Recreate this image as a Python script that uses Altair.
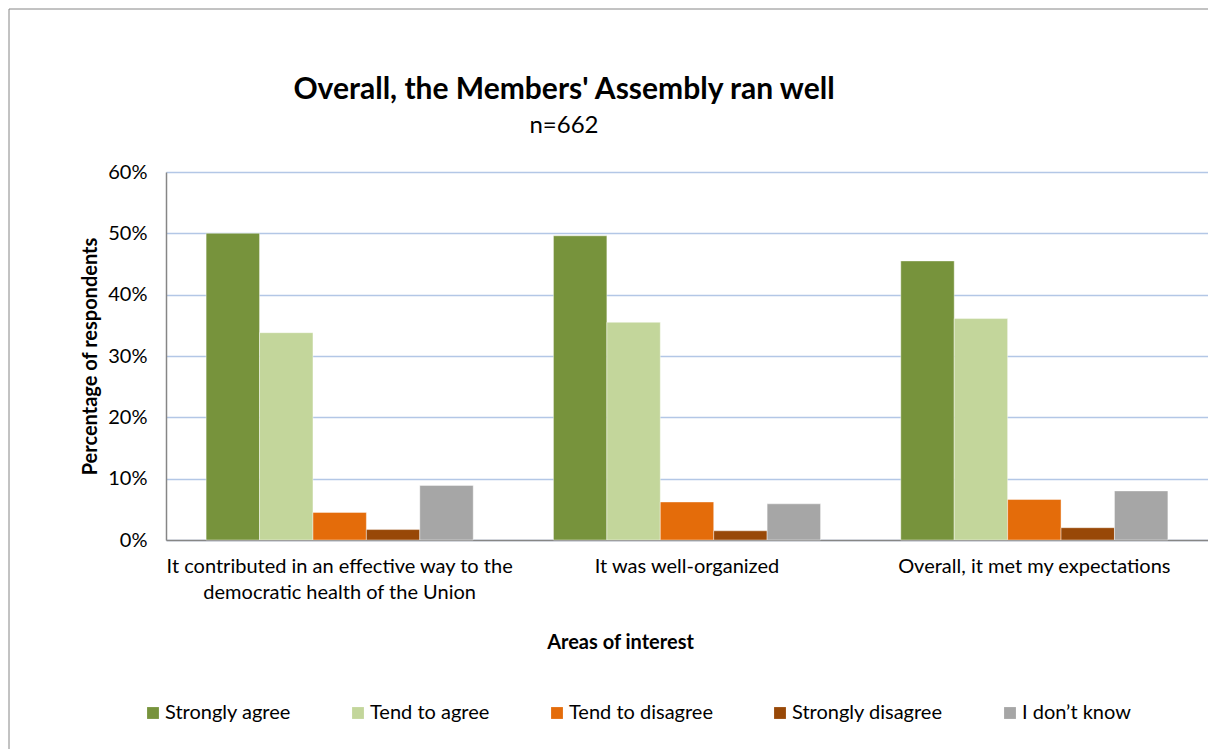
import altair as alt
import pandas as pd

categories = [
    "It contributed in an effective way to the\ndemocratic health of the Union",
    "It was well-organized",
    "Overall, it met my expectations",
]
responses = ["Strongly agree", "Tend to agree", "Tend to disagree", "Strongly disagree", "I don\u2019t know"]
colors = ["#77933C", "#C3D69B", "#E46C0A", "#984807", "#A6A6A6"]

strongly_agree = [50.0, 49.6, 45.5]
tend_to_agree = [33.8, 35.5, 36.1]
tend_to_disagree = [4.5, 6.2, 6.6]
strongly_disagree = [1.7, 1.5, 2.0]
dont_know = [8.9, 5.9, 8.0]

y_ticks = [0, 10, 20, 30, 40, 50, 60]

series = [strongly_agree, tend_to_agree, tend_to_disagree, strongly_disagree, dont_know]
rows = []
for resp, vals in zip(responses, series):
    for cat, v in zip(categories, vals):
        rows.append({"area": cat, "response": resp, "pct": v})
df = pd.DataFrame(rows)

FONT = "Lato"
W, H = 1042, 368

frame = alt.Chart(pd.DataFrame({"k": [0]})).mark_rect(
    fillOpacity=0, stroke="#868686", strokeWidth=1
).encode(
    x=alt.value(-157), x2=alt.value(1100), y=alt.value(-163), y2=alt.value(700)
)

bars = alt.Chart(df).mark_bar(stroke="white", strokeWidth=0.6, strokeOpacity=0.7).encode(
    x=alt.X(
        "area:N",
        sort=categories,
        scale=alt.Scale(paddingInner=0.231, paddingOuter=0.1155),
        axis=alt.Axis(
            title="Areas of interest",
            labelAngle=0,
            labelExpr="split(datum.label, '\\n')",
            labelFont=FONT,
            labelFontSize=20,
            labelColor="#000000",
            labelLineHeight=26,
            labelPadding=16,
            labelLimit=500,
            ticks=False,
            domainColor="#868686",
            domainWidth=1.5,
            titleFont=FONT,
            titleFontSize=20,
            titleFontWeight="bold",
            titleColor="#000000",
            titlePadding=30,
            titleX=454,
        ),
    ),
    xOffset=alt.XOffset("response:N", sort=responses, scale=alt.Scale(paddingInner=0, paddingOuter=0)),
    y=alt.Y(
        "pct:Q",
        scale=alt.Scale(domain=[0, 60]),
        axis=alt.Axis(
            title="Percentage of respondents",
            values=y_ticks,
            labelExpr="datum.value + '%'",
            labelFont=FONT,
            labelFontSize=20,
            labelColor="#000000",
            labelPadding=19,
            ticks=False,
            domainColor="#868686",
            domainWidth=1.5,
            gridColor="#B3C7E6",
            gridWidth=1.5,
            titleFont=FONT,
            titleFontSize=20,
            titleFontWeight="bold",
            titleColor="#000000",
            titlePadding=7,
        ),
    ),
    color=alt.Color(
        "response:N",
        sort=responses,
        scale=alt.Scale(domain=responses, range=colors),
        legend=alt.Legend(
            title=None,
            orient="none",
            direction="horizontal",
            legendX=-23,
            legendY=531,
            symbolType="square",
            symbolSize=140,
            symbolStrokeWidth=0,
            labelFont=FONT,
            labelFontSize=20,
            labelColor="#000000",
            labelOffset=2,
            columnPadding=57,
        ),
    ),
)

chart = alt.layer(frame, bars).properties(
    width=W,
    height=H,
    autosize=alt.AutoSizeParams(type="none"),
    padding={"left": 166, "top": 172, "right": 0, "bottom": 209},
    background="white",
    title=alt.TitleParams(
        text="Overall, the Members' Assembly ran well",
        subtitle="n=662",
        font=FONT,
        fontSize=30,
        fontWeight="bold",
        color="#000000",
        subtitleFont=FONT,
        subtitleFontSize=24,
        subtitleColor="#000000",
        subtitlePadding=9,
        anchor="middle",
        frame="group",
        dx=-123,
        offset=-129,
    ),
).configure_view(stroke=None)

chart.save("out.html", embed_options={"renderer": "svg", "actions": False})
